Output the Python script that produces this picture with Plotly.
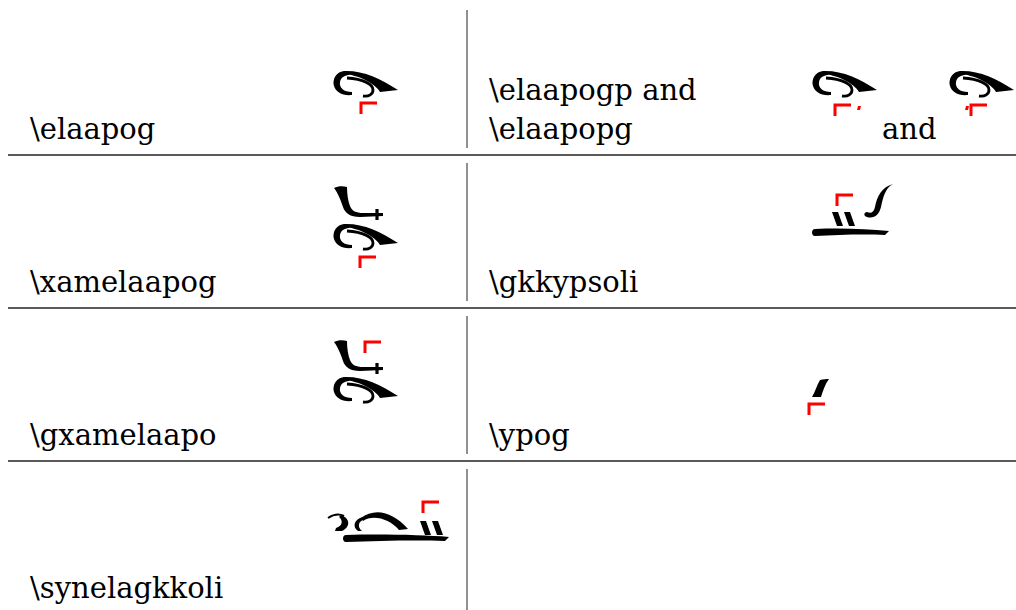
import re
import plotly.graph_objects as go

# ---------------- data ----------------
left_labels = ["\\elaapog", "\\xamelaapog", "\\gxamelaapo", "\\synelagkkoli"]
right_labels = [["\\elaapogp and", "\\elaapopg"], ["\\gkkypsoli"], ["\\ypog"], []]
joiner_text = "and"

# ---------------- layout constants ----------------
W, H = 1016, 610
FONT = "DejaVu Serif"
FS = 29
row_sep_y = [155, 308, 461]
vline_x = 467
vline_segments = [(10, 148), (163, 301), (316, 454), (469, 610)]
left_text_x = 28
right_text_x = 487
left_text_mid = [129, 282, 435, 588]
right_text_mid = [[90, 129], [282], [435], []]
joiner_pos = (880, 129)

# ---------------- glyph templates (local coords) ----------------
HOOK = [
    ("fill", "M 12 1 C 3 1 -1 10 1 16 C 3 22 9 26 19 25 L 19 22 C 11 22 6 18 7 12 C 8 7 12 5 17 5 Z"),
    ("line", "M 14 8 C 30 9 40 14 40 20 C 40 24 36 27 30 26", 2.8),
    ("fill", "M 10 1 C 30 0 46 8 65 20 L 47 22 C 44 16 30 6 12 4 Z"),
]
XAMILO = [
    ("fill", "M 1 2 C 5 0 10 0 14 1 C 14 8 15 15 17 20 C 19 25 23 27 30 27 L 50 27 L 50 30 "
             "L 27 31 C 17 31 12 27 10 21 C 8 15 5 7 1 2 Z"),
    ("line", "M 44 23 L 44 34", 3.2),
]
RED_CORNER = [("redline", "M 1 12 L 1 1 L 17 1", 3)]
RED_DOT = [("redfill", "M 1 0 L 4 0 L 3 4 L 0 4 Z")]
KENTIMATA = [
    ("fill", "M 0 0 L 6 0 L 11 14 L 5 14 Z"),
    ("fill", "M 12 0 L 18 0 L 23 14 L 17 14 Z"),
]
BAR_SHORT = [("fill", "M 3 1 C 30 0 55 1 77 3 L 73 7 C 50 6 25 7 3 8 C -1 8 -1 1 3 1 Z")]
BAR_LONG = [("fill", "M 3 1 C 40 0 80 1 106 3 L 102 7 C 70 6 35 7 3 8 C -1 8 -1 1 3 1 Z")]
GORGON_J = [("fill", "M 29 0 C 21 4 19 14 17 23 C 15 31 10 35 3 33 C -1 32 0 28 3 28 "
                     "C 7 30 10 28 11 23 C 13 12 18 3 29 0 Z")]
YPSILI = [("fill", "M 8 1 C 11 0 15 0 17 0 C 13 5 11 12 9 18 L 0 18 C 3 13 5 6 8 1 Z")]
SYN = [
    ("line", "M 0 5 C 6 1 12 1 16 3", 2),
    ("fill", "M 13 2 C 22 5 23 14 14 18 L 7 18 L 8 15 C 15 13 15 7 11 4 Z"),
    ("fill", "M 35 4 C 26 6 24 14 30 18 L 34 18 C 29 14 30 8 37 6 Z"),
    ("fill", "M 33 5 C 45 -4 62 -4 80 16 L 71 17 C 62 6 45 1 35 8 Z"),
]


def place(template, ox, oy):
    out = []
    for item in template:
        kind, p = item[0], item[1]
        toks = re.findall(r"[A-Za-z]|-?\d+(?:\.\d+)?", p)
        res, i = [], 0
        for t in toks:
            if t.isalpha():
                res.append(t)
            else:
                v = float(t) + (ox if i % 2 == 0 else oy)
                i += 1
                res.append(f"{v:g}")
        path = " ".join(res)
        if kind == "fill":
            out.append(dict(type="path", path=path, fillcolor="black", line=dict(width=0)))
        elif kind == "redfill":
            out.append(dict(type="path", path=path, fillcolor="#ff0000", line=dict(width=0)))
        elif kind == "line":
            out.append(dict(type="path", path=path, line=dict(color="black", width=item[2])))
        elif kind == "redline":
            out.append(dict(type="path", path=path, line=dict(color="#ff0000", width=item[2])))
    return out


glyph_places = [
    (HOOK, 333, 70), (RED_CORNER, 360, 102),
    (HOOK, 812, 70), (RED_CORNER, 834, 104), (RED_DOT, 857, 106),
    (HOOK, 949, 70), (RED_DOT, 965, 106), (RED_CORNER, 970, 104),
    (XAMILO, 333, 186), (HOOK, 333, 223), (RED_CORNER, 359, 256),
    (KENTIMATA, 832, 212), (GORGON_J, 864, 184), (BAR_SHORT, 812, 228), (RED_CORNER, 836, 194),
    (XAMILO, 333, 340), (HOOK, 333, 376), (RED_CORNER, 364, 341),
    (YPSILI, 812, 379), (RED_CORNER, 808, 403),
    (SYN, 328, 513), (KENTIMATA, 420, 521), (BAR_LONG, 343, 534), (RED_CORNER, 422, 501),
]

shapes = []
for y in row_sep_y:
    shapes.append(dict(type="line", x0=8, x1=W, y0=y, y1=y, line=dict(color="#222", width=1.3)))
for y0, y1 in vline_segments:
    shapes.append(dict(type="line", x0=vline_x, x1=vline_x, y0=y0, y1=y1,
                       line=dict(color="#222", width=1)))
for tpl, ox, oy in glyph_places:
    shapes.extend(place(tpl, ox, oy))

tfont = dict(family=FONT, size=FS, color="black")
annotations = []
for lab, ym in zip(left_labels, left_text_mid):
    annotations.append(dict(x=left_text_x, y=ym, text=lab, xanchor="left", yanchor="middle",
                            showarrow=False, font=tfont))
for labs, yms in zip(right_labels, right_text_mid):
    for lab, ym in zip(labs, yms):
        annotations.append(dict(x=right_text_x, y=ym, text=lab, xanchor="left", yanchor="middle",
                                showarrow=False, font=tfont))
annotations.append(dict(x=joiner_pos[0], y=joiner_pos[1], text=joiner_text, xanchor="left",
                        yanchor="middle", showarrow=False, font=tfont))

fig = go.Figure()
fig.add_trace(go.Scatter(x=[0, W], y=[0, H], mode="markers",
                         marker=dict(opacity=0), hoverinfo="skip", showlegend=False))
fig.update_layout(
    width=W, height=H, margin=dict(l=0, r=0, t=0, b=0),
    paper_bgcolor="white", plot_bgcolor="white",
    xaxis=dict(range=[0, W], visible=False, fixedrange=True),
    yaxis=dict(range=[H, 0], visible=False, fixedrange=True),
    shapes=shapes, annotations=annotations, showlegend=False,
)
fig.write_html(
    "out.html",
    config={"displayModeBar": False},
    post_script="document.body.style.margin='0';document.body.style.overflow='hidden';",
)
